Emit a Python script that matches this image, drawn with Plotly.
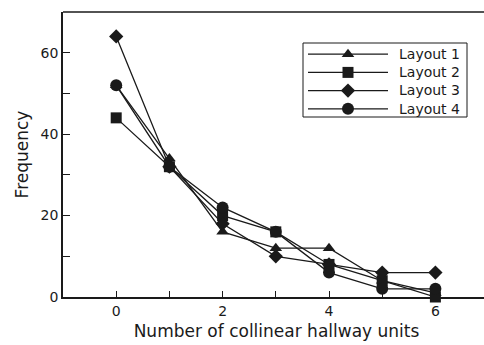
import plotly.graph_objects as go

x_units = [0, 1, 2, 3, 4, 5, 6]
layout1 = [52, 34, 16, 12, 12, 4, 1]
layout2 = [44, 32, 20, 16, 8, 4, 0]
layout3 = [64, 32, 18, 10, 8, 6, 6]
layout4 = [52, 32, 22, 16, 6, 2, 2]
names = ["Layout 1", "Layout 2", "Layout 3", "Layout 4"]
symbols = ["triangle-up", "square", "diamond", "circle"]
sizes = [11, 11, 11, 12]
x_tick_vals = [0, 1, 2, 3, 4, 5, 6]
x_tick_text = ["0", "", "2", "", "4", "", "6"]
y_tick_vals = [0, 10, 20, 30, 40, 50, 60]
y_tick_text = ["0", "", "20", "", "40", "", "60"]

FONT = "DejaVu Sans, Liberation Sans, sans-serif"
INK = "#1a1a1a"
# the frame runs off the right edge of the 484-px window, as in the reference
W, H = 490, 345
ML, MR, MT, MB = 63, 0, 12, 48


def px(xpix):
    return (xpix - ML) / (W - ML - MR)


def py(ypix):
    return (H - MB - ypix) / (H - MT - MB)


fig = go.Figure()
for name, ys, sym, sz in zip(names, [layout1, layout2, layout3, layout4], symbols, sizes):
    fig.add_trace(go.Scatter(
        x=x_units, y=ys, name=name, mode="lines+markers",
        line=dict(color=INK, width=1.3),
        marker=dict(symbol=sym, size=sz, color=INK),
        cliponaxis=False, showlegend=False,
    ))

# top frame line
fig.add_shape(type="line", xref="paper", yref="paper", x0=0, x1=1, y0=1, y1=1,
              line=dict(color=INK, width=1.5), layer="above")

# hand-built legend (box, sample lines, markers, labels)
row_y = [54.2, 72.4, 90.6, 108.8]
fig.add_shape(type="rect", xref="paper", yref="paper",
              x0=px(303), x1=px(467), y0=py(117), y1=py(43),
              line=dict(color=INK, width=1), fillcolor="white", layer="below")
for sym, sz, ry in zip(symbols, sizes, row_y):
    fig.add_shape(type="line", xref="paper", yref="paper",
                  x0=px(308), x1=px(388), y0=py(ry), y1=py(ry),
                  line=dict(color=INK, width=1.3), layer="below")
    fig.add_trace(go.Scatter(
        x=[px(348)], y=[py(ry)], xaxis="x2", yaxis="y2", mode="markers",
        marker=dict(symbol=sym, size=sz, color=INK), showlegend=False,
        cliponaxis=False, hoverinfo="skip",
    ))
fig.add_annotation(x=px(398), y=py(sum(row_y) / len(row_y)), xref="paper", yref="paper",
                   text="<br>".join(names), showarrow=False, xanchor="left", yanchor="middle",
                   align="left", borderpad=0,
                   font=dict(size=14, family=FONT, color=INK))

fig.update_layout(
    width=W, height=H,
    margin=dict(l=ML, r=MR, t=MT, b=MB),
    paper_bgcolor="white", plot_bgcolor="white",
    font=dict(family=FONT, color=INK, size=14),
    showlegend=False,
    xaxis=dict(
        range=[-1, -1 + (W - ML - MR) / 53.2], tickmode="array", tickvals=x_tick_vals, ticktext=x_tick_text,
        ticks="inside", ticklen=6, tickwidth=1,
        tickcolor=INK, showline=True, linecolor=INK, linewidth=1.5, mirror=False,
        showgrid=False, zeroline=False,
        title=dict(text="Number of collinear hallway units", font=dict(size=17, family=FONT), standoff=8),
        tickfont=dict(size=14),
    ),
    yaxis=dict(
        range=[0, 70], tickmode="array", tickvals=y_tick_vals, ticktext=y_tick_text,
        ticks="inside", ticklen=7, tickwidth=1,
        tickcolor=INK, showline=True, linecolor=INK, linewidth=1.5, mirror=False,
        showgrid=False, zeroline=False,
        title=dict(text="Frequency", font=dict(size=17, family=FONT), standoff=8),
        tickfont=dict(size=14),
    ),
    xaxis2=dict(overlaying="x", range=[0, 1], visible=False, fixedrange=True),
    yaxis2=dict(overlaying="y", range=[0, 1], visible=False, fixedrange=True),
)
fig.write_html("out.html", config={"displayModeBar": False})
